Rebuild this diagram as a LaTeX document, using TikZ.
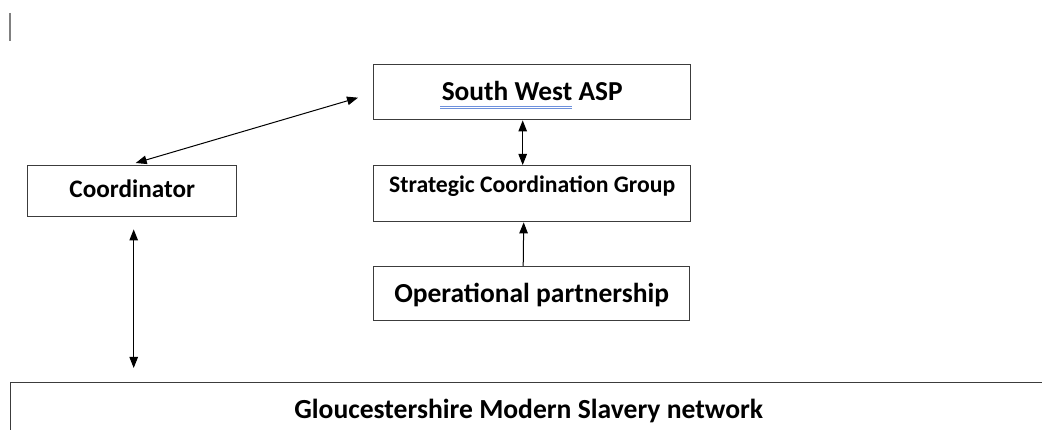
\documentclass[tikz,border=0pt]{standalone}
\usepackage{fontspec}
\setmainfont{Carlito}
\usetikzlibrary{arrows.meta,calc}
\definecolor{boxgray}{RGB}{60,60,60}
\definecolor{spellblue}{RGB}{110,145,220}
\begin{document}
\begin{tikzpicture}[x=1pt,y=-1pt,
  box/.style={draw=boxgray, line width=1.4pt, inner sep=0pt, anchor=north west, text=black},
  link/.style={line width=1pt, {Triangle[length=11pt,width=8.5pt]}-{Triangle[length=11pt,width=8.5pt]}},
  feed/.style={line width=1pt, -{Triangle[length=11pt,width=8.5pt]}},
  uline/.style={draw=spellblue, line width=0.8pt},
  ]
\clip (0,0) rectangle (1042,430);
\fill[white] (0,0) rectangle (1042,430);

% text cursor mark
\draw[gray, line width=1.5pt] (10,13) -- (10,41);

% boxes
\node[box, minimum width=209pt, minimum height=51pt,
      font=\bfseries\fontsize{25.2}{30}\selectfont, text height=20pt, text depth=7.6pt]
  (coord) at (27,165) {Coordinator};
\node[box, minimum width=317pt, minimum height=55pt,
      font=\bfseries\fontsize{27.4}{32}\selectfont, text height=20pt, text depth=3pt]
  (asp) at (373,64) {South West ASP};
\node[box, minimum width=317pt, minimum height=56pt,
      font=\bfseries\fontsize{23.7}{28}\selectfont, text height=20pt, text depth=22.6pt]
  (sgc) at (373,165) {Strategic Coordination Group};
\node[box, minimum width=316pt, minimum height=54pt,
      font=\bfseries\fontsize{27.5}{32}\selectfont, text height=20pt, text depth=2.6pt]
  (op) at (373,266) {Operational partnership};
\node[box, minimum width=1036pt, minimum height=80pt,
      font=\bfseries\fontsize{27.6}{32}\selectfont, text height=20pt, text depth=28pt]
  (net) at (10,382) {Gloucestershire Modern Slavery network};

% spelling mark under "South West"
\draw[uline] ($(asp.north west)+(67,42)$) -- ++(132,0);
\draw[uline] ($(asp.north west)+(67,44.5)$) -- ++(132,0);

% connectors
\draw[link] ($(coord.north)+(3.5,-2)$) -- ($(asp.west)+(-15,5.5)$);
\draw[link] ($(asp.south)+(-9.5,0)$) -- ($(sgc.north)+(-9.5,0)$);
\draw[feed] ($(op.north)+(-8.5,0)$) -- ($(sgc.south)+(-8.5,0)$);
\draw[link] ($(coord.south)+(1.5,12)$) -- ($(coord.south |- net.north)+(1.5,-14)$);
\end{tikzpicture}
\end{document}
